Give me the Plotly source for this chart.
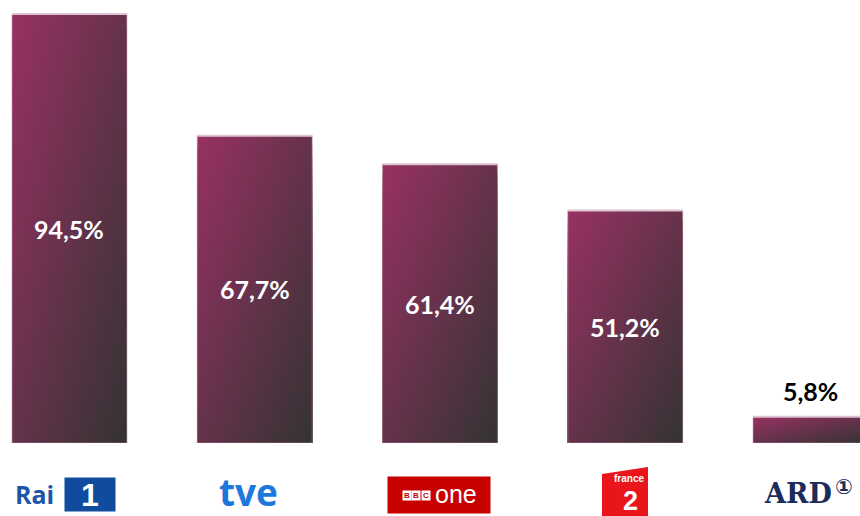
import plotly.graph_objects as go

# ---- data ----
channels = ["Rai 1", "TVE", "BBC One", "France 2", "ARD"]
values = [94.5, 67.7, 61.4, 51.2, 5.8]
value_labels = ["94,5%", "67,7%", "61,4%", "51,2%", "5,8%"]

W, H = 860, 516
PLOT_BOTTOM = 443  # px


def pxx(x):
    return x / W


def pxy(y):
    return (PLOT_BOTTOM - y) / PLOT_BOTTOM


M = (152, 49, 99)   # magenta
G = (51, 51, 51)    # dark grey


def lerp(t):
    return "rgb(%d,%d,%d)" % tuple(round(a + (b - a) * t) for a, b in zip(M, G))


fig = go.Figure()
HALF = 0.31
N = 30
for i, v in enumerate(values):
    x0, x1 = i - HALF, i + HALF
    for k in range(N):
        ytop = v * (1 - k / N)
        ty = (k + 0.5) / N
        fig.add_trace(go.Scatter(
            x=[x0, x1, x1, x0, x0], y=[0, 0, ytop, ytop, 0],
            mode="lines", line=dict(width=0), fill="toself",
            fillgradient=dict(type="horizontal",
                              colorscale=[[0, lerp(ty / 2)], [1, lerp((ty + 1) / 2)]]),
            hoverinfo="skip", showlegend=False))
    # outline
    fig.add_trace(go.Scatter(
        x=[x0, x1, x1, x0, x0], y=[0, 0, v, v, 0], mode="lines",
        line=dict(width=1, color="rgba(185,140,165,0.55)"),
        hoverinfo="skip", showlegend=False))
    fig.add_trace(go.Scatter(
        x=[x0, x1], y=[v, v], mode="lines",
        line=dict(width=2, color="#dcc3d0"),
        hoverinfo="skip", showlegend=False))

# value labels
for i, (v, lab) in enumerate(zip(values, value_labels)):
    inside = v > 20
    fig.add_annotation(
        x=i, y=v / 2 if inside else v, xref="x", yref="y",
        text="<b>%s</b>" % lab, showarrow=False,
        yanchor="middle" if inside else "bottom",
        yshift=0 if inside else 9,
        font=dict(family="Lato", size=25, color="white" if inside else "black"))

# ---- channel logos (tick labels) ----
ann = []
# Rai 1
ann.append(dict(x=pxx(34), y=pxy(494), text="<b>Rai</b>",
                font=dict(family="Open Sans", size=25, color="#1d56a6")))
ann.append(dict(x=pxx(90), y=pxy(494), text="<b>1</b>", width=50, height=33,
                bgcolor="#0f4c9e", borderpad=0,
                font=dict(family="Liberation Sans", size=32, color="white")))
# tve
ann.append(dict(x=pxx(248), y=pxy(491), text="<b>tve</b>",
                font=dict(family="Open Sans", size=37, color="#1e78dc")))
# BBC One
ann.append(dict(x=pxx(439), y=pxy(495), text="", width=102, height=36,
                bgcolor="#c80000", borderpad=0))
for j, ch in enumerate("BBC"):
    ann.append(dict(x=pxx(406.5 + j * 9.5), y=pxy(495), text="<b>%s</b>" % ch,
                    width=8, height=9, bgcolor="white", borderpad=0,
                    font=dict(family="Liberation Sans", size=8, color="#c80000")))
ann.append(dict(x=pxx(456), y=pxy(494), text="one",
                font=dict(family="Liberation Sans", size=25, color="white")))
# France 2
ann.append(dict(x=pxx(629), y=pxy(479), text="<b>france</b>",
                font=dict(family="Liberation Sans", size=10, color="white")))
ann.append(dict(x=pxx(630), y=pxy(500.5), text="<b>2</b>",
                font=dict(family="Liberation Sans", size=27, color="white")))
# ARD
ann.append(dict(x=pxx(798), y=pxy(493), text="<b>ARD</b>",
                font=dict(family="DejaVu Serif", size=27, color="#1b2b5b")))
ann.append(dict(x=pxx(844), y=pxy(487), text="<b>①</b>",
                font=dict(family="DejaVu Sans", size=21, color="#1b2b5b")))

for a in ann:
    a.setdefault("showarrow", False)
    fig.add_annotation(xref="paper", yref="paper", xanchor="center",
                       yanchor="middle", **a)

fig.add_shape(type="path", xref="paper", yref="paper", layer="below",
              path="M %f,%f L %f,%f L %f,%f L %f,%f Z" % (
                  pxx(602), pxy(474), pxx(648), pxy(467),
                  pxx(648), pxy(516), pxx(602), pxy(516)),
              fillcolor="#e8151b", line=dict(width=0))

ymax = values[0] + (14 / (PLOT_BOTTOM - 14)) * values[0]
fig.update_layout(
    width=W, height=H,
    margin=dict(l=0, r=0, t=0, b=H - PLOT_BOTTOM),
    paper_bgcolor="white", plot_bgcolor="white",
    xaxis=dict(range=[-0.375, 4.267], visible=False, fixedrange=True),
    yaxis=dict(range=[0, ymax], visible=False, fixedrange=True),
    showlegend=False,
)

fig.write_html("out.html", config={"displayModeBar": False},
               post_script="document.body.style.margin='0';"
                           "document.body.style.overflow='hidden';")
